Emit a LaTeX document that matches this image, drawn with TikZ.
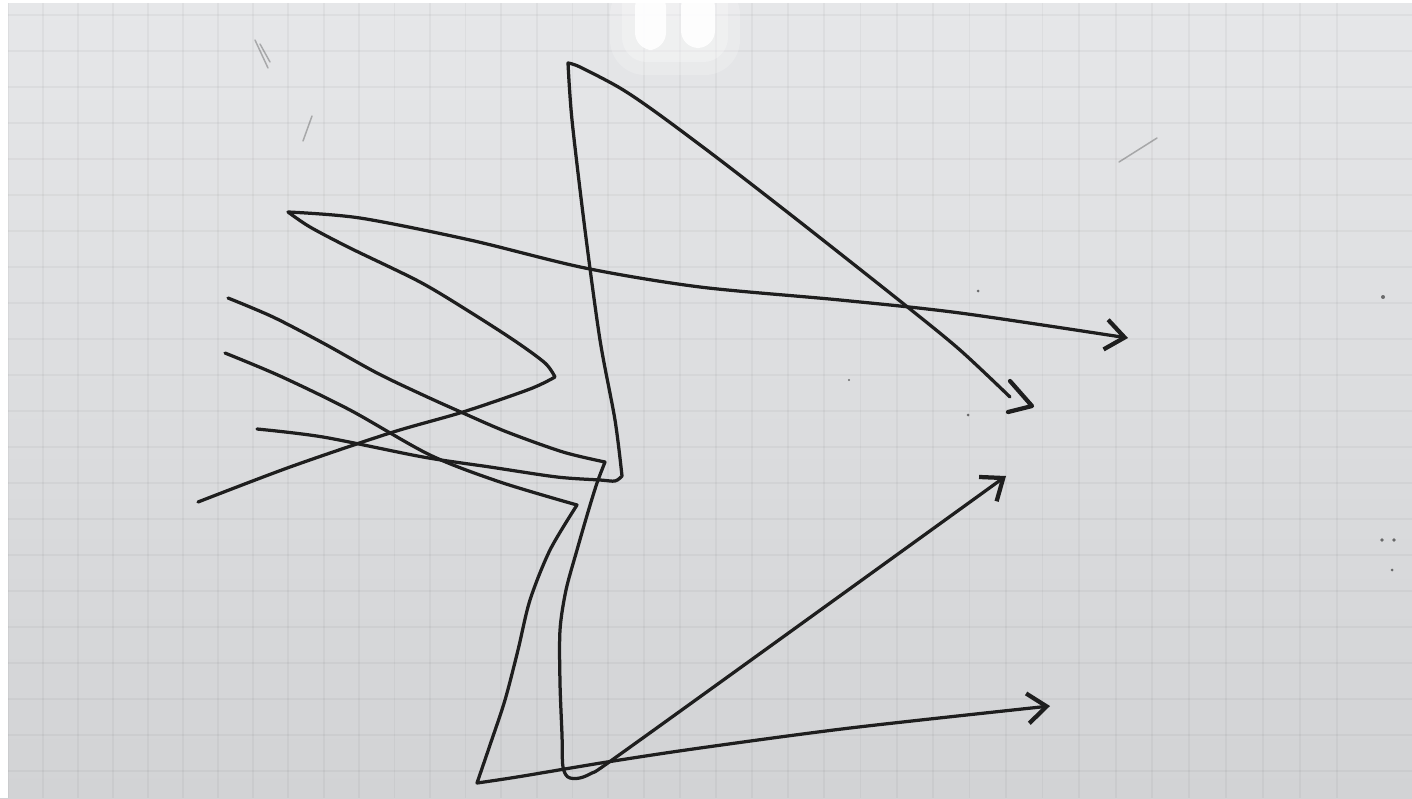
\documentclass[tikz,border=0pt]{standalone}
\usetikzlibrary{arrows.meta}
\definecolor{board}{RGB}{230,231,233}
\definecolor{boardlow}{RGB}{210,211,213}
\definecolor{ink}{RGB}{30,30,30}
\tikzset{
    pen/.style={draw=ink, line width=0.065cm, line cap=round, line join=round},
    pentip/.style={pen, -{Straight Barb[length=0.38cm, width=0.6cm, line width=0.085cm]}},
    gridline/.style={draw=black, opacity=0.035, line width=0.035cm},
    smudge/.style={draw=ink, opacity=0.3, line width=0.03cm, line cap=round},
    speck/.style={fill=ink, opacity=0.6},
}
\begin{document}
\begin{tikzpicture}[x=0.02cm, y=-0.02cm]
    \useasboundingbox (0,0) rectangle (1412,798);
    \shade[top color=board, bottom color=boardlow] (0,0) rectangle (1412,798);
    \foreach \k in {0,...,37}
        \draw[gridline] ({8+34.8*\k+0.03*\k*\k},0) -- ({8+34.8*\k+0.03*\k*\k},798);
    \foreach \k in {0,...,21}
        \draw[gridline] (0,{15+36*\k}) -- (1412,{15+36*\k});
    \fill[white] (0,0) rectangle (8,798);
    \fill[white] (0,0) rectangle (1412,3);
    \fill[white, opacity=0.2, rounded corners=20] (610,-20) rectangle (740,75);
    \fill[white, opacity=0.25, rounded corners=14] (622,-20) rectangle (728,62);
    \fill[white, opacity=0.9, rounded corners=10] (635,-10) rectangle (666,50);
    \fill[white, opacity=0.9, rounded corners=10] (681,-10) rectangle (715,48);

    \draw[smudge] (255,40) -- (268,68);
    \draw[smudge] (260,44) -- (270,62);
    \draw[smudge] (312,116) -- (303,141);
    \draw[smudge] (1119,162) -- (1157,138);
    \fill[speck] (1383,297) circle (2);
    \fill[speck] (1382,540) circle (1.8);
    \fill[speck] (1394,540) circle (1.8);
    \fill[speck] (1392,570) circle (1.5);
    \fill[speck] (978,291) circle (1.5);
    \fill[speck] (968,415) circle (1.5);
    \fill[speck] (849,380) circle (1.2);

    \draw[pentip] plot[smooth, tension=0.5] coordinates {(198,502) (290,467) (390,433) (463,412) (530,389) (555,377)}
        -- plot[smooth, tension=0.5] coordinates {(555,377) (545,363) (515,341) (470,312) (420,282) (350,248) (310,227) (288,212)}
        -- plot[smooth, tension=0.5] coordinates {(288,212) (360,218) (470,240) (585,268) (700,287) (840,300) (960,313) (1128,338)};
    \draw[pentip] plot[smooth, tension=0.5] coordinates {(228,298) (273,317) (323,343) (377,373) (423,395) (463,413) (507,432) (563,452) (605,462)}
        -- plot[smooth, tension=0.5] coordinates {(605,462) (597,483) (588,512) (577,550) (566,590) (560,630) (560,683) (562,735) (563,767) (570,778) (590,774) (640,740) (1006,476)};
    \draw[pentip] plot[smooth, tension=0.5] coordinates {(225,353) (280,376) (350,410) (430,455) (500,482) (577,505)}
        -- plot[smooth, tension=0.5] coordinates {(577,505) (550,550) (530,600) (518,650) (505,700) (490,745) (477,783)}
        -- plot[smooth, tension=0.5] coordinates {(477,783) (517,777) (607,762) (700,748) (850,728) (1050,706)};
    \draw[pen] plot[smooth, tension=0.5] coordinates {(257,429) (323,437) (423,457) (490,467) (557,477) (600,480) (615,481) (622,476)}
        -- plot[smooth, tension=0.5] coordinates {(622,476) (615,420) (600,340) (585,230) (572,120) (568,63)}
        -- plot[smooth, tension=0.5] coordinates {(568,63) (580,67) (620,88) (657,113) (720,160) (800,222) (905,305) (960,350) (1010,397)};
    \draw[pen, line width=0.085cm] (1010,381) -- (1032,406) -- (1008,412);
\end{tikzpicture}
\end{document}
